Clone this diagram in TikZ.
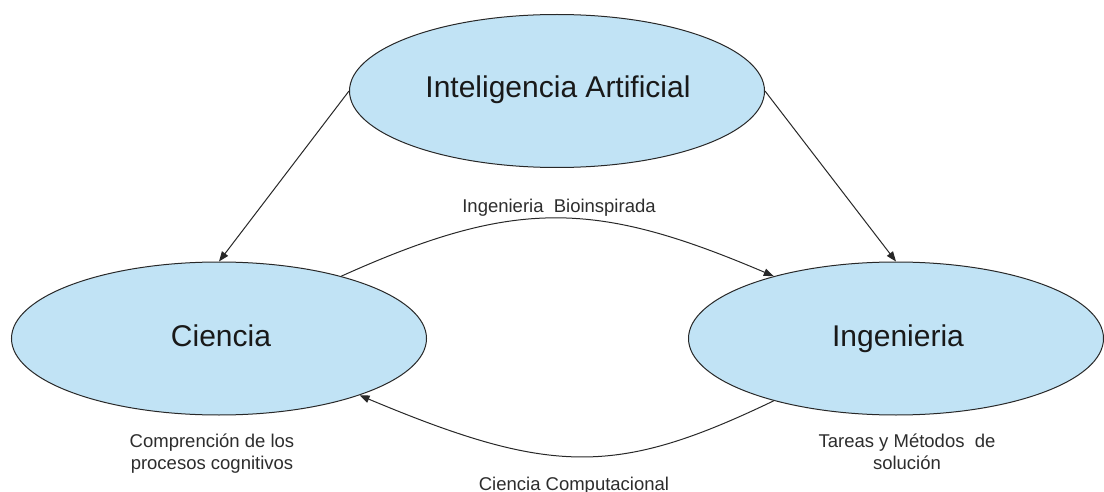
\documentclass[tikz,border=0pt]{standalone}
\usepackage{fontspec}
\setmainfont{Liberation Sans}
\usetikzlibrary{shapes.geometric,arrows.meta}
\definecolor{ellfill}{RGB}{193,227,245}
\definecolor{ellline}{RGB}{40,40,40}
\definecolor{txt}{RGB}{25,25,25}
\definecolor{lbl}{RGB}{45,45,45}
\begin{document}
\begin{tikzpicture}[x=1pt,y=-1pt,
  ellnode/.style={ellipse, draw=ellline, fill=ellfill, line width=1pt, minimum width=415pt, minimum height=153pt, inner sep=0pt},
  bigtext/.style={text=txt, font=\fontsize{30}{36}\selectfont, anchor=base, inner sep=0pt},
  smalltext/.style={text=lbl, font=\fontsize{18.5}{22}\selectfont, inner sep=0pt},
  conn/.style={draw=ellline, line width=1pt, -{Triangle[length=10pt,width=7.5pt]}}]
\fill[white] (0,0) rectangle (1104,492);
\useasboundingbox (0,0) rectangle (1104,492);
% ellipses
\node[ellnode] (ia) at (557,91) {};
\node[ellnode] (cie) at (219,338.5) {};
\node[ellnode] (ing) at (896,338.5) {};
\node[bigtext] (iat) at (558,98) {Inteligencia Artificial};
\node[bigtext] (ciet) at (221,346) {Ciencia};
\node[bigtext] (ingt) at (898,346) {Ingenieria};
% connectors
\draw[conn] (ia.west) -- (cie.north);
\draw[conn] (ia.east) -- (ing.north);
\draw[conn] (cie.27) .. controls (515,198) and (595,200) .. (ing.153);
\draw[conn] (ing.207) .. controls (617,476) and (552,476) .. (cie.338);
% labels
\node[smalltext, anchor=base] (bio) at (559,212) {Ingenieria\ \ Bioinspirada};
\node[smalltext, anchor=base] (comp) at (574,490) {Ciencia Computacional};
\node[smalltext, align=center] (cog) at (212,454) {Comprención de los\\procesos cognitivos};
\node[smalltext, align=center] (tar) at (907,452) {Tareas y Métodos\ \ de\\solución};
\end{tikzpicture}
\end{document}
